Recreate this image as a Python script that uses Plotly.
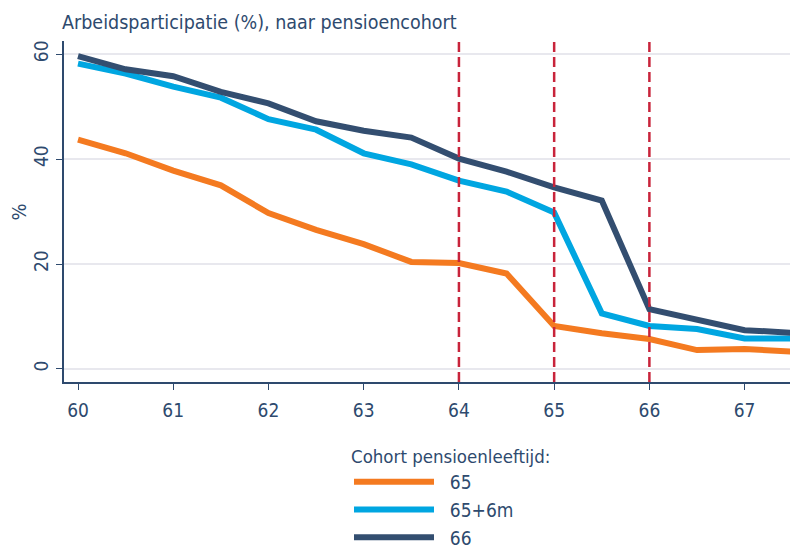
import plotly.graph_objects as go

ages = [60, 60.5, 61, 61.5, 62, 62.5, 63, 63.5, 64, 64.5, 65, 65.5, 66, 66.5, 67, 67.5]
cohort_65 = [43.7, 41.1, 37.8, 35.0, 29.7, 26.5, 23.8, 20.4, 20.2, 18.2, 8.2, 6.8, 5.7, 3.6, 3.8, 3.3]
cohort_65_6m = [58.2, 56.3, 53.8, 51.7, 47.6, 45.6, 41.1, 39.0, 35.9, 33.8, 29.8, 10.6, 8.2, 7.6, 5.8, 5.8]
cohort_66 = [59.6, 57.1, 55.8, 52.8, 50.6, 47.2, 45.4, 44.1, 40.1, 37.6, 34.6, 32.1, 11.4, 9.3, 7.4, 6.9]
series_names = ["65", "65+6m", "66"]
colors = ["#F47A20", "#00A6E1", "#334E70"]
vlines = [64, 65, 66]
x_ticks = [60, 61, 62, 63, 64, 65, 66, 67]
y_ticks = [0, 20, 40, 60]

navy = "#2E4A6E"
font_family = "DejaVu Sans Condensed"
W, H = 790, 544  # page body adds an 8px offset

fig = go.Figure()
for name, vals, col in zip(series_names, [cohort_65, cohort_65_6m, cohort_66], colors):
    fig.add_trace(go.Scatter(x=ages, y=vals, mode="lines",
                             name="\u00a0\u00a0" + name,
                             line=dict(color=col, width=6)))

for v in vlines:
    fig.add_vline(x=v, line=dict(color="#C8243B", width=2.5, dash="10px,5px"))

plot_w = W - 57
plot_h = 374 - 33
fig.add_annotation(text="%", xref="paper", yref="paper",
                   x=(10 - 56) / plot_w, xanchor="center", y=0.5, yanchor="middle",
                   showarrow=False, textangle=-90,
                   font=dict(size=20, color=navy, family=font_family))
fig.add_annotation(text="Cohort pensioenleeftijd:", xref="paper", yref="paper",
                   x=(341 - 56) / plot_w, xanchor="left",
                   y=(374 - 448) / plot_h, yanchor="middle",
                   showarrow=False,
                   font=dict(size=18.5, color=navy, family=font_family))

fig.update_layout(
    width=W, height=H,
    margin=dict(l=56, r=1, t=33, b=170, autoexpand=False),
    paper_bgcolor="white", plot_bgcolor="white",
    font=dict(family=font_family, color=navy, size=19),
    title=dict(text="Arbeidsparticipatie (%), naar pensioencohort",
               xref="container", yref="container", x=54 / W, y=1 - 14 / H,
               xanchor="left", yanchor="middle",
               font=dict(size=19.5, color=navy, family=font_family)),
    showlegend=True,
    legend=dict(font=dict(size=19, color=navy),
                x=341 / W, xanchor="left", y=1 - 455 / H, yanchor="top",
                xref="container", yref="container",
                itemwidth=80, tracegroupgap=0,
                bgcolor="rgba(0,0,0,0)"),
)
fig.update_xaxes(range=[59.853, 67.55], tickvals=x_ticks, showgrid=False,
                 showline=True, linecolor=navy, linewidth=1.5,
                 ticks="outside", ticklen=6, tickcolor=navy, tickwidth=1.2,
                 tickangle=0, tickfont=dict(size=19), zeroline=False,
                 ticklabelstandoff=4)
fig.update_yaxes(range=[-2.48, 62.5], tickvals=y_ticks, showgrid=True,
                 gridcolor="#E8E8EE", gridwidth=1.8,
                 showline=True, linecolor=navy, linewidth=1.5,
                 ticks="outside", ticklen=6, tickcolor=navy, tickwidth=1.2,
                 tickangle=-90, tickfont=dict(size=19), zeroline=False,
                 ticklabelstandoff=1)

fig.write_html("out.html")
